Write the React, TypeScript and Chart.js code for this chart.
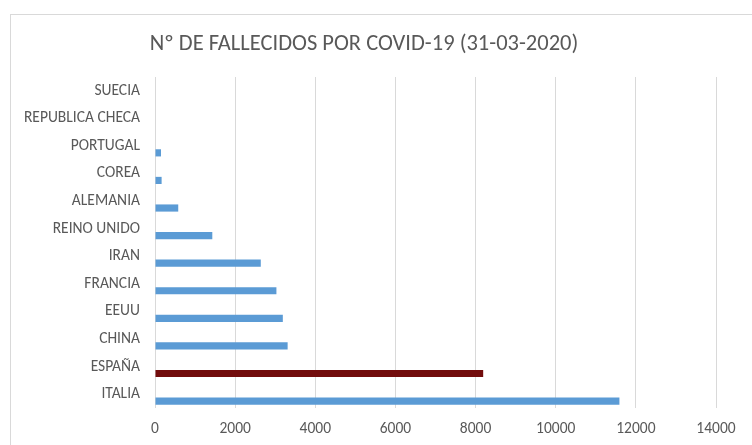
import React, { useEffect, useRef } from "react";
import { Chart, registerables } from "chart.js";

Chart.register(...registerables);

const countries = [
  "SUECIA",
  "REPUBLICA CHECA",
  "PORTUGAL",
  "COREA",
  "ALEMANIA",
  "REINO UNIDO",
  "IRAN",
  "FRANCIA",
  "EEUU",
  "CHINA",
  "ESPAÑA",
  "ITALIA",
];
const deaths = [0, 0, 150, 165, 580, 1430, 2640, 3030, 3190, 3310, 8190, 11590];
const emptySeries = countries.map(() => null);
const highlight = "ESPAÑA";
const xTicksMax = 14000;
const xTicksStep = 2000;
const titleText = "Nº DE FALLECIDOS POR COVID-19 (31-03-2020)";

const FONT = "Carlito, Lato, 'Open Sans', sans-serif";

export default function App() {
  const ref = useRef<HTMLCanvasElement | null>(null);

  useEffect(() => {
    if (!ref.current) return;
    const colors = countries.map((c) => (c === highlight ? "#720C0C" : "#5B9BD5"));
    const chart = new Chart(ref.current, {
      type: "bar",
      data: {
        labels: countries,
        datasets: [
          { label: "vacía", data: emptySeries, backgroundColor: "#5B9BD5" },
          { label: "Fallecidos", data: deaths, backgroundColor: colors },
        ],
      },
      options: {
        indexAxis: "y",
        animation: false,
        responsive: false,
        maintainAspectRatio: false,
        layout: { padding: { left: 12, right: 36, top: 0, bottom: 0 } },
        datasets: {
          bar: { categoryPercentage: 1.0, barPercentage: 0.52 },
        },
        plugins: {
          legend: { display: false },
          tooltip: { enabled: false },
          title: {
            display: true,
            text: titleText,
            color: "#595959",
            font: { family: FONT, size: 22.5, weight: "normal" },
            padding: { top: 31, bottom: 19 },
          },
        },
        scales: {
          x: {
            min: 0,
            max: xTicksMax,
            ticks: {
              stepSize: xTicksStep,
              color: "#595959",
              font: { family: FONT, size: 15.5 },
              padding: 12,
              maxRotation: 0,
              callback: (v: any) => String(v),
            },
            grid: { color: "#d9d9d9", drawTicks: false },
            border: { display: false },
            afterFit: (scale: any) => {
              scale.height = 37;
            },
          },
          y: {
            ticks: {
              color: "#595959",
              font: { family: FONT, size: 15.5 },
              padding: 15,
              autoSkip: false,
            },
            grid: { display: false, drawTicks: false },
            border: { display: false },
            afterFit: (scale: any) => {
              scale.width = 143;
            },
          },
        },
      },
    });
    return () => chart.destroy();
  }, []);

  return (
    <div style={{ position: "fixed", left: 0, top: 0, width: 752, height: 445, background: "#fff" }}>
      <div
        style={{
          position: "absolute",
          left: 10,
          top: 14,
          width: 760,
          height: 440,
          borderLeft: "1px solid #d9d9d9",
          borderTop: "1px solid #d9d9d9",
        }}
      />
      <canvas ref={ref} width={752} height={445} style={{ position: "absolute", left: 0, top: 0 }} />
    </div>
  );
}
